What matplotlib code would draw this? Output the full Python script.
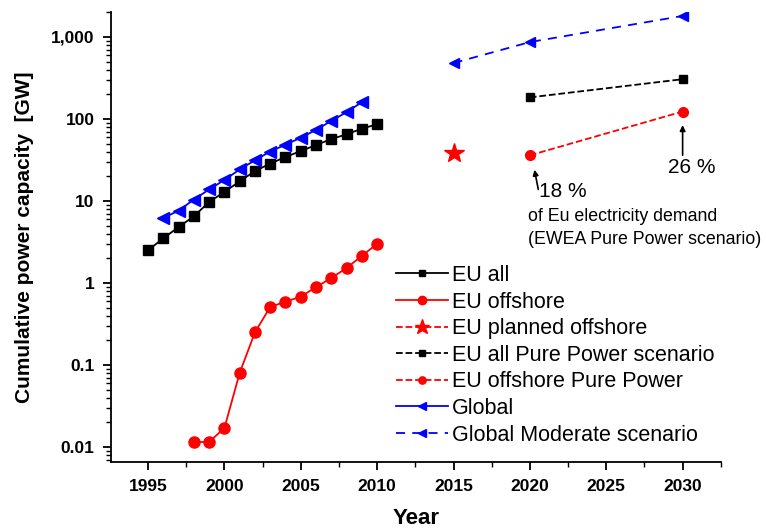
import numpy as np
import matplotlib.pyplot as plt
from matplotlib.ticker import FixedLocator, LogLocator, NullFormatter, MultipleLocator

plt.rcParams["font.family"] = ["Liberation Sans", "DejaVu Sans"]

# EU all, installed
eu_years = list(range(1995, 2011))
eu_all = [2.5, 3.5, 4.8, 6.5, 9.7, 12.9, 17.3, 23.1, 28.5, 34.4, 40.5, 48.1, 56.7, 65.0, 76.0, 86.0]

# EU offshore, installed
off_years = list(range(1998, 2011))
eu_off = [0.0115, 0.0115, 0.017, 0.08, 0.25, 0.51, 0.59, 0.68, 0.89, 1.15, 1.52, 2.14, 3.0]

# EU planned offshore
plan_years = [2015]
eu_plan = [38]

# EWEA Pure Power scenario
pp_years = [2020, 2030]
eu_all_pp = [183, 305]
eu_off_pp = [36, 123]

# Global, installed
gl_years = list(range(1996, 2010))
glob = [6.2, 7.6, 10.4, 13.8, 18.0, 24.2, 31.3, 40.0, 48.5, 59.0, 73.5, 94.5, 121, 160]

# Global moderate scenario
glm_years = [2015, 2020, 2030]
glob_mod = [480, 865, 1800]

xticks = [1995, 2000, 2005, 2010, 2015, 2020, 2025, 2030]
yticks = [0.01, 0.1, 1, 10, 100, 1000]
ytick_labels = ["0.01", "0.1", "1", "10", "100", "1,000"]

fig = plt.figure(figsize=(7.66, 5.31), dpi=100)
ax = fig.add_axes([0.145, 0.130, 0.796, 0.847])

ax.plot(eu_years, eu_all, "-s", color="black", ms=6.5, lw=1.3, label="EU all")
ax.plot(off_years, eu_off, "-o", color="red", ms=8, lw=1.3, label="EU offshore")
ax.plot(plan_years, eu_plan, "--*", color="red", ms=15, lw=1.3, label="EU planned offshore")
ax.plot(pp_years, eu_all_pp, "--s", color="black", ms=6, lw=1.3, label="EU all Pure Power scenario")
ax.plot(pp_years, eu_off_pp, "--o", color="red", ms=7, lw=1.3, label="EU offshore Pure Power")
ax.plot(gl_years, glob, "-<", color="blue", ms=8, lw=1.3, label="Global")
ax.plot(glm_years, glob_mod, "--<", color="blue", ms=7, lw=1.3, dashes=(5, 4), label="Global Moderate scenario")

ax.set_yscale("log")
ax.set_xlim(1992.58, 2032.5)
ax.set_ylim(0.00656, 2000)

ax.xaxis.set_major_locator(FixedLocator(xticks))
ax.xaxis.set_minor_locator(MultipleLocator(2.5))
ax.yaxis.set_major_locator(FixedLocator(yticks))
ax.yaxis.set_minor_locator(LogLocator(base=10, subs=np.arange(2, 10)))
ax.yaxis.set_minor_formatter(NullFormatter())
ax.set_yticklabels(ytick_labels)
ax.set_xticklabels([str(y) for y in xticks])

for lab in ax.get_xticklabels() + ax.get_yticklabels():
    lab.set_fontweight("bold")
    lab.set_fontsize(12.5)

ax.tick_params(which="major", direction="out", length=6, width=1.3)
ax.tick_params(which="minor", direction="out", length=3.5, width=1)
ax.tick_params(axis="x", pad=6)
ax.tick_params(axis="y", pad=6)

ax.spines["top"].set_visible(False)
ax.spines["right"].set_visible(False)
ax.spines["left"].set_linewidth(1.3)
ax.spines["bottom"].set_linewidth(1.3)

ax.set_xlabel("Year", fontsize=16, fontweight="bold", labelpad=10)
ax.set_ylabel("Cumulative power capacity  [GW]", fontsize=15, fontweight="bold", labelpad=12)

# annotations
ax.annotate("", xy=(2020.3, 24), xytext=(2020.55, 13.8),
            arrowprops=dict(arrowstyle="-|>", color="black", lw=1.2, mutation_scale=8, shrinkA=0, shrinkB=0))
ax.text(2020.6, 13.2, "18 %", fontsize=15, va="center", ha="left")
ax.annotate("", xy=(2030, 84), xytext=(2030, 36),
            arrowprops=dict(arrowstyle="-|>", color="black", lw=1.2, mutation_scale=8, shrinkA=0, shrinkB=0))
ax.text(2030.6, 25.3, "26 %", fontsize=15, va="center", ha="center")
ax.text(2019.9, 6.4, "of Eu electricity demand", fontsize=12.8, va="center", ha="left")
ax.text(2019.9, 3.35, "(EWEA Pure Power scenario)", fontsize=12.8, va="center", ha="left")

ax.legend(loc="upper left", bbox_to_anchor=(0.45, 0.462), frameon=False, fontsize=15.5,
          handlelength=2.4, handletextpad=0.2, labelspacing=0.26, borderpad=0, markerscale=0.75)

fig.savefig("out.png", dpi=100)
